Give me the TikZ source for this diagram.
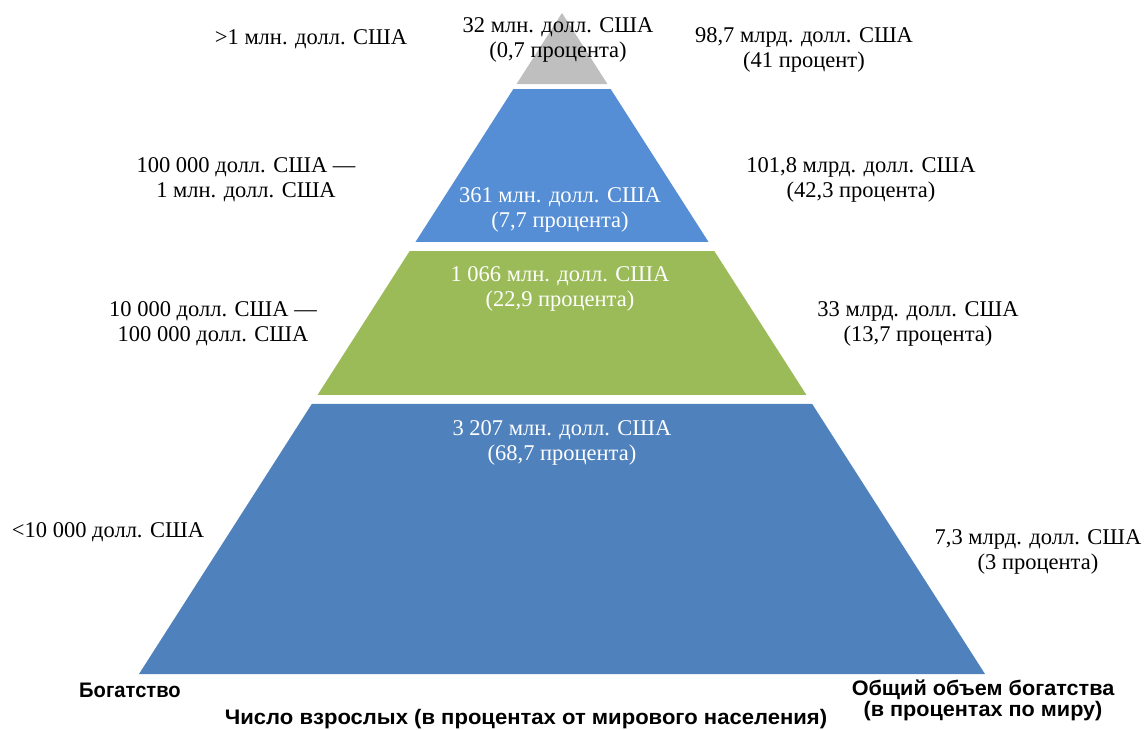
\documentclass[tikz,border=0pt]{standalone}
\usepackage{fontspec}
\usepackage{graphicx}
\setmainfont{Liberation Serif}
\newfontfamily\labfont{Liberation Sans}
\usetikzlibrary{calc}
\definecolor{cgray}{HTML}{BFBFBF}
\definecolor{ctop}{HTML}{558ED5}
\definecolor{cgreen}{HTML}{9BBB59}
\definecolor{cbot}{HTML}{4F81BD}
\tikzset{
  lbl/.style={align=center, font=\fontsize{22.5}{25}\selectfont, inner sep=0pt},
  wlbl/.style={lbl, text=white},
  axlbl/.style={align=center, font=\labfont\bfseries\fontsize{21}{21}\selectfont, inner sep=0pt}
}
\newcommand{\sq}[2]{\scalebox{#1}[1]{#2}}
\begin{document}
\begin{tikzpicture}[x=1pt,y=-1pt]
\useasboundingbox (0,0) rectangle (1146,729);
\coordinate (apex) at (562,13);
\coordinate (bl) at (139,674);
\coordinate (br) at (985,674);
% layers
\fill[cgray] (apex) -- ($(apex)!0.1074!(bl)$) -- ($(apex)!0.1074!(br)$) -- cycle;
\fill[ctop] ($(apex)!0.1150!(bl)$) -- ($(apex)!0.3464!(bl)$) -- ($(apex)!0.3464!(br)$) -- ($(apex)!0.1150!(br)$) -- cycle;
\fill[cgreen] ($(apex)!0.3601!(bl)$) -- ($(apex)!0.5779!(bl)$) -- ($(apex)!0.5779!(br)$) -- ($(apex)!0.3601!(br)$) -- cycle;
\fill[cbot] ($(apex)!0.5915!(bl)$) -- (bl) -- (br) -- ($(apex)!0.5915!(br)$) -- cycle;
% left labels
\node[lbl] (l1) at (311,39.5) {>1 млн. долл. США};
\node[lbl] (l2) at (246,179.5) {100 000 долл. США —\\1 млн. долл. США};
\node[lbl] (l3) at (213,323.5) {10 000 долл. США —\\100 000 долл. США};
\node[lbl] (l4) at (108,532) {<10 000 долл. США};
% centre labels
\node[lbl] (c1) at (558,40) {32 млн. долл. США\\(0,7 процента)};
\node[wlbl] (c2) at (560,210) {361 млн. долл. США\\(7,7 процента)};
\node[wlbl] (c3) at (560,288.5) {1 066 млн. долл. США\\(22,9 процента)};
\node[wlbl] (c4) at (562,442.5) {3 207 млн. долл. США\\(68,7 процента)};
% right labels
\node[lbl] (r1) at (804,50) {98,7 млрд. долл. США\\(41 процент)};
\node[lbl] (r2) at (861,179.5) {101,8 млрд. долл. США\\(42,3 процента)};
\node[lbl] (r3) at (918,323.5) {33 млрд. долл. США\\(13,7 процента)};
\node[lbl] (r4) at (1038,551.5) {7,3 млрд. долл. США\\(3 процента)};
% axis labels
\node[axlbl] (a1) at (130,690) {\sq{0.96}{Богатство}};
\node[axlbl] (a2) at (983,700) {\sq{1.03}{Общий объем богатства}\\\sq{1.03}{(в процентах по миру)}};
\node[axlbl] (a3) at (526,719.5) {\sq{1.05}{Число взрослых (в процентах от мирового населения)}};
\end{tikzpicture}
\end{document}
